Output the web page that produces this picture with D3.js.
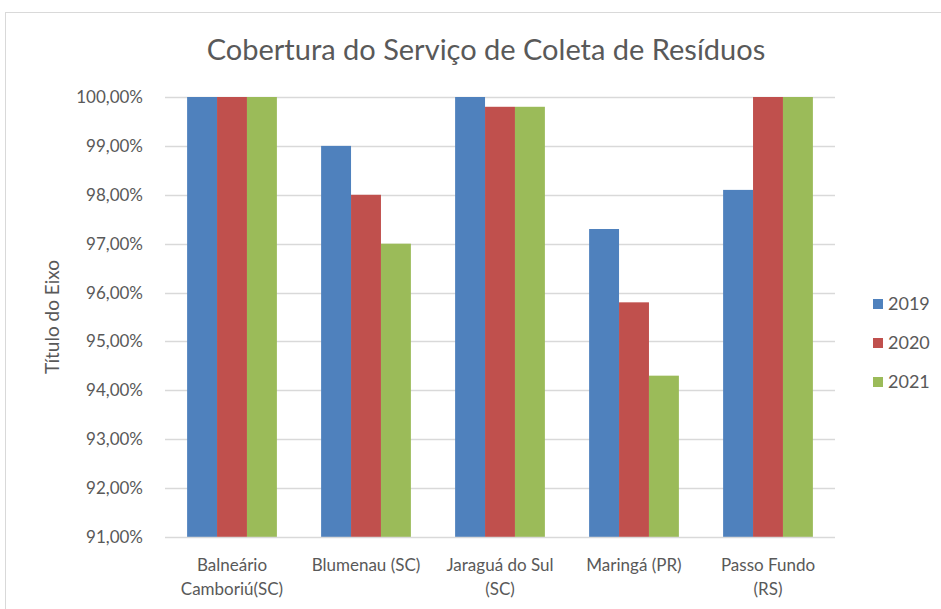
<!DOCTYPE html>
<html>
<head>
<meta charset="utf-8">
<script src="https://cdn.jsdelivr.net/npm/d3@7"></script>
<style>
  body { margin: 0; background: #fff; }
  svg text { font-family: Lato, "Open Sans", sans-serif; fill: #595959; }
</style>
</head>
<body>
<svg width="941" height="609"></svg>
<script>
var categories = [["Balneário", "Camboriú(SC)"], ["Blumenau (SC)"], ["Jaraguá do Sul", "(SC)"], ["Maringá (PR)"], ["Passo Fundo", "(RS)"]];
var years = ["2019", "2020", "2021"];
var v2019 = [100, 99, 100, 97.3, 98.1];
var v2020 = [100, 98, 99.8, 95.8, 100];
var v2021 = [100, 97, 99.8, 94.3, 100];
var yTicks = [91, 92, 93, 94, 95, 96, 97, 98, 99, 100];
var colors = ["#4F81BD", "#C0504D", "#9BBB59"];

var series = [v2019, v2020, v2021];
var svg = d3.select("svg");

// chart frame
svg.append("rect")
    .attr("x", 5.5).attr("y", 12.5)
    .attr("width", 940).attr("height", 600)
    .attr("fill", "none").attr("stroke", "#D9D9D9");

var plotL = 165, plotR = 835, plotT = 97, plotB = 537;

var x = d3.scaleBand()
    .domain(d3.range(categories.length))
    .range([plotL, plotR])
    .paddingInner(0.33).paddingOuter(0.165);
var xi = d3.scaleBand().domain(d3.range(years.length)).range([0, x.bandwidth()]);
var y = d3.scaleLinear().domain([91, 100]).range([plotB, plotT]);

// gridlines
svg.append("g").selectAll("line")
    .data(yTicks.slice(1))
    .enter().append("line")
    .attr("x1", plotL).attr("x2", plotR)
    .attr("y1", function(d) { return Math.round(y(d)) + 0.5; })
    .attr("y2", function(d) { return Math.round(y(d)) + 0.5; })
    .attr("stroke", "#D9D9D9").attr("stroke-width", 1.5);

// y tick labels
svg.append("g").selectAll("text")
    .data(yTicks)
    .enter().append("text")
    .attr("x", 143)
    .attr("y", function(d) { return y(d); })
    .attr("dy", "0.35em")
    .attr("text-anchor", "end")
    .style("font-size", "17px")
    .text(function(d) { return d.toFixed(2).replace(".", ",") + "%"; });

// bars
series.forEach(function(vals, s) {
    svg.append("g").selectAll("rect")
        .data(vals)
        .enter().append("rect")
        .attr("x", function(d, i) { return x(i) + xi(s); })
        .attr("y", function(d) { return y(d); })
        .attr("width", xi.bandwidth())
        .attr("height", function(d) { return plotB - y(d); })
        .attr("fill", colors[s]);
});

// x axis line
svg.append("line")
    .attr("x1", plotL).attr("x2", plotR)
    .attr("y1", plotB + 0.5).attr("y2", plotB + 0.5)
    .attr("stroke", "#D9D9D9").attr("stroke-width", 1.5);

// category labels
var cat = svg.append("g").selectAll("text")
    .data(categories)
    .enter().append("text")
    .attr("text-anchor", "middle")
    .style("font-size", "17px");
cat.selectAll("tspan")
    .data(function(d, i) { return d.map(function(t) { return {t: t, i: i}; }); })
    .enter().append("tspan")
    .attr("x", function(d) { return x(d.i) + x.bandwidth() / 2; })
    .attr("y", function(d, j) { return 571 + j * 24; })
    .text(function(d) { return d.t; });

// title
svg.append("text")
    .attr("x", 486).attr("y", 60)
    .attr("text-anchor", "middle")
    .style("font-size", "29px")
    .text("Cobertura do Serviço de Coleta de Resíduos");

// y axis title
svg.append("text")
    .attr("transform", "translate(59,317) rotate(-90)")
    .attr("text-anchor", "middle")
    .style("font-size", "19px")
    .text("Título do Eixo");

// legend
var leg = svg.append("g").selectAll("g")
    .data(years)
    .enter().append("g")
    .attr("transform", function(d, i) { return "translate(873," + (304 + i * 39) + ")"; });
leg.append("rect")
    .attr("x", 0).attr("y", -5)
    .attr("width", 10).attr("height", 10)
    .attr("fill", function(d, i) { return colors[i]; });
leg.append("text")
    .attr("x", 15).attr("dy", "0.36em")
    .style("font-size", "18px")
    .text(function(d) { return d; });
</script>
</body>
</html>
